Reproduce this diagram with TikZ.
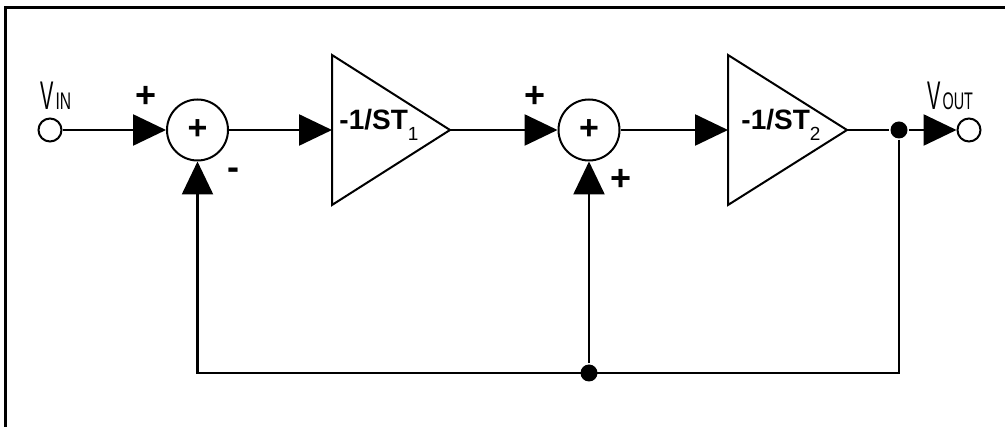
\documentclass[tikz,border=0pt]{standalone}
\usepackage{fontspec}
\setmainfont{Liberation Sans}
\usetikzlibrary{arrows.meta}
\begin{document}
\begin{tikzpicture}[x=1pt,y=-1pt,line width=2.5pt,
  arr/.style={-{Triangle[length=33pt,width=31pt]}},
  term/.style={circle,draw,line width=2pt,minimum size=23pt,inner sep=0pt},
  sumnode/.style={circle,draw,line width=2pt,minimum size=61pt,inner sep=0pt,font=\fontsize{34}{34}\selectfont\bfseries},
  dot/.style={circle,fill,minimum size=17pt,inner sep=0pt},
  sign/.style={inner sep=0pt,font=\fontsize{36}{36}\selectfont\bfseries},
  gainlbl/.style={inner sep=0pt,font=\fontsize{28}{28}\selectfont\bfseries},
  vlbl/.style={inner sep=0pt,anchor=south west}]
\useasboundingbox (0,0) rectangle (1005,427);
% frame
\draw[line width=3pt] (5.5,427) -- (5.5,7.5) -- (1005,7.5);
% nodes
\node[term] (vin) at (50,130) {};
\node[sumnode] (s1) at (197.5,130) {+};
\coordinate (t1in) at (332,130);
\coordinate (t1out) at (450,130);
\draw[line width=2pt] (332,55) -- (t1out) -- (332,205) -- cycle;
\node[gainlbl] (g1) at (379,125) {-1/ST\raisebox{-0.4em}{\fontsize{19}{19}\selectfont\mdseries 1}};
\node[sumnode] (s2) at (589,130) {+};
\coordinate (t2in) at (728,130);
\coordinate (t2out) at (847,130);
\draw[line width=2pt] (728,55) -- (t2out) -- (728,205) -- cycle;
\node[gainlbl] (g2) at (781,125) {-1/ST\raisebox{-0.4em}{\fontsize{19}{19}\selectfont\mdseries 2}};
\node[dot] (jout) at (899,130) {};
\node[term] (vout) at (969,130) {};
\node[dot] (jbot) at (589,373) {};
% labels
\node[vlbl] (vinl) at (39,111) {\scalebox{0.5}[1]{\fontsize{40}{40}\selectfont V}\hspace{2pt}\scalebox{0.65}[1]{\fontsize{24}{24}\selectfont IN}};
\node[vlbl] (voutl) at (926,111) {\scalebox{0.5}[1]{\fontsize{40}{40}\selectfont V}\hspace{2pt}\scalebox{0.6}[1]{\fontsize{24}{24}\selectfont OUT}};
\node[sign] (p1) at (146,97) {+};
\node[sign] (m1) at (233,174) {-};
\node[sign] (p2) at (535,97) {+};
\node[sign] (p3) at (621,180) {+};
% connectors
\draw[arr] (vin) -- (s1);
\draw[arr] (s1) -- (t1in);
\draw[arr] (t1out) -- (s2);
\draw[arr] (s2) -- (t2in);
\draw (t2out) -- (jout);
\draw[arr] (jout) -- (vout);
\draw[arr] (jout) -- (jout |- jbot) -- (s1 |- jbot) -- (s1.south);
\draw[arr] (jbot) -- (s2.south);
\end{tikzpicture}
\end{document}
